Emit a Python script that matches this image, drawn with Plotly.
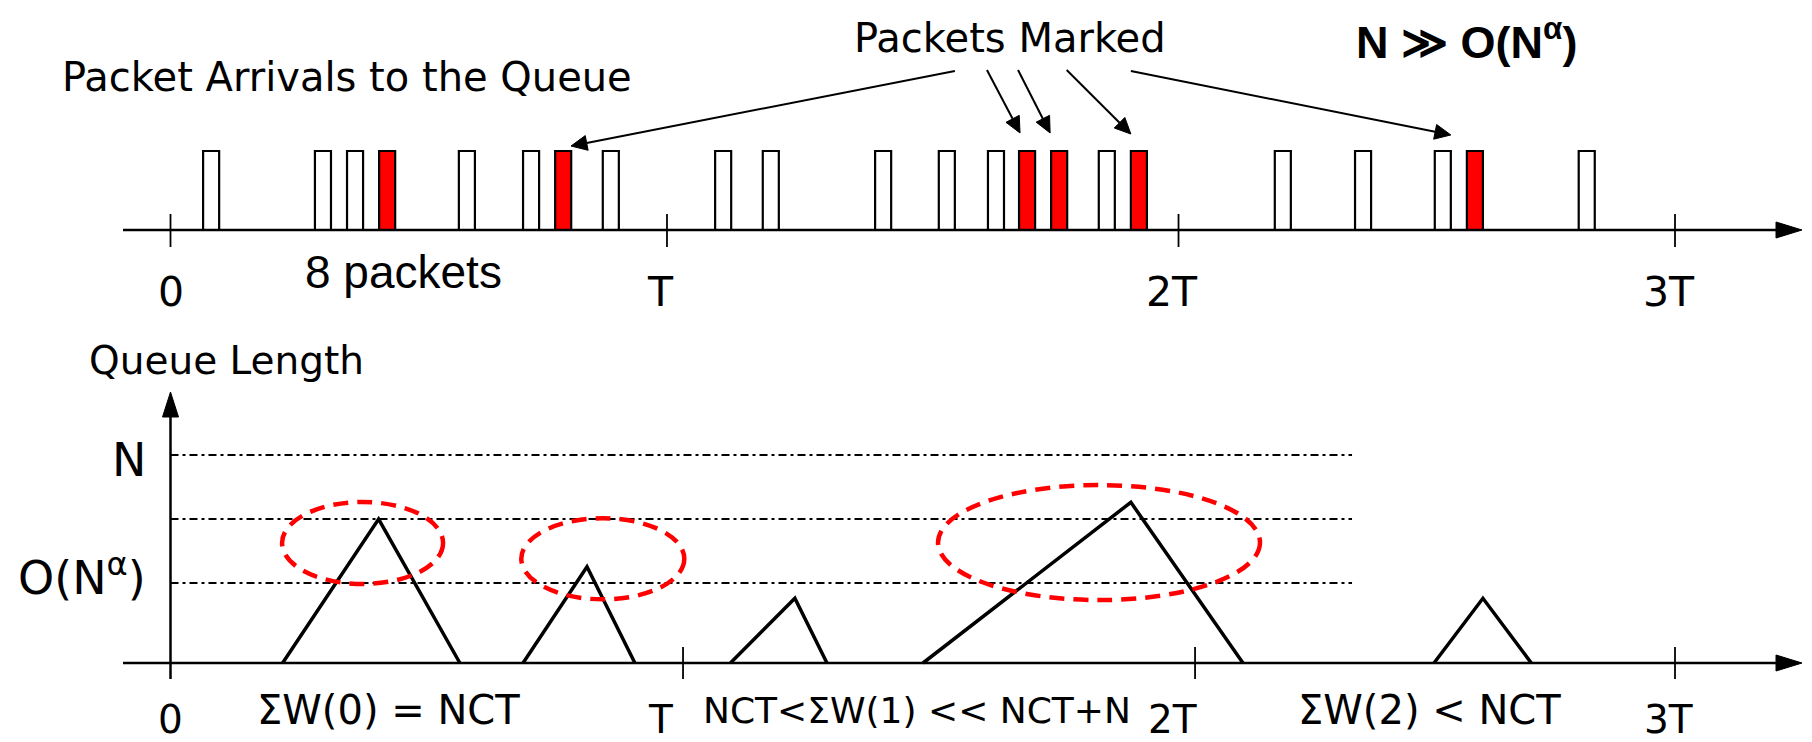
import math
import plotly.graph_objects as go

W, H = 1812, 742
OFF = 8                      # page body margin offset of the figure div
FW, FH = W - OFF, H - OFF    # figure size
# axis calibration (pixel of t=0 and pixels per T; baselines and pixels per unit)
X0_PX, X_SCALE = 170.5, 501.5
TOP_Y0_PX, TOP_SCALE = 230.0, 79.0
BOT_Y0_PX, BOT_SCALE = 663.0, 208.0

# ---------------- data ----------------
tick_labels = ["0", "T", "2T", "3T"]
top_tick_pos = [0.0, 0.99, 2.01, 3.0]
bottom_tick_pos = [0.0, 1.022, 2.043, 3.0]
tick_label_pos = [0.0, 0.978, 1.997, 2.988]

packet_times = [0.081, 0.304, 0.368, 0.432, 0.591, 0.719, 0.783, 0.878,
                1.102, 1.197, 1.421, 1.548, 1.646, 1.708, 1.772, 1.867, 1.931,
                2.218, 2.378, 2.537, 2.601, 2.824]
packet_marked = [0, 0, 0, 1, 0, 0, 1, 0,
                 0, 0, 0, 0, 0, 1, 1, 0, 1,
                 0, 0, 0, 1, 0]
packet_height = 1.0
packet_width = 0.032

queue_start = [0.2235, 0.703, 1.1165, 1.5005, 2.5195]
queue_peak_t = [0.415, 0.8305, 1.245, 1.915, 2.617]
queue_end = [0.577, 0.926, 1.309, 2.1385, 2.7135]
queue_peak = [0.692, 0.463, 0.311, 0.7726, 0.311]

level_values = [1.0, 0.692, 0.385]
level_labels = ["N", "", "O(N<sup>α</sup>)"]
level_end = 2.356

ellipse_t = [0.383, 0.862, 1.8515]
ellipse_q = [0.577, 0.501, 0.579]
ellipse_rt = [0.1605, 0.1625, 0.321]
ellipse_rq = [0.197, 0.195, 0.2765]

arrow_tail_t = [1.564, 1.628, 1.690, 1.787, 1.915]
arrow_tail_v = [2.013, 2.025, 2.025, 2.025, 2.013]
arrow_tip_t = [0.7986, 1.694, 1.754, 1.915, 2.553]
arrow_tip_v = [1.063, 1.228, 1.228, 1.215, 1.203]

window_texts = ["ΣW(0) = NCT", "NCT<ΣW(1) << NCT+N", "ΣW(2) < NCT"]
window_text_t = [0.4347, 1.4885, 2.5095]
window_text_size = [40, 36, 40]

# ---------------- helpers ----------------
def tx(px):
    return (px - X0_PX) / X_SCALE

def tv(py):
    return (TOP_Y0_PX - py) / TOP_SCALE

def bq(py):
    return (BOT_Y0_PX - py) / BOT_SCALE

def t2px(t):
    return X0_PX + t * X_SCALE

def v2py(v):
    return TOP_Y0_PX - v * TOP_SCALE

def paper(px, py):
    return (px - OFF) / FW, 1 - (py - OFF) / FH

COMIC = "DejaVu Sans"
ARIAL = "Liberation Sans"

fig = go.Figure()

# packets (bars)
fig.add_trace(go.Bar(
    x=packet_times, y=[packet_height] * len(packet_times), width=packet_width,
    marker=dict(color=["#ff0000" if m else "white" for m in packet_marked],
                line=dict(color="black", width=2.2)),
    yaxis="y", hoverinfo="skip"))

# queue triangles
qx, qy = [], []
for s, pt, e, pq in zip(queue_start, queue_peak_t, queue_end, queue_peak):
    qx += [s, pt, e, None]
    qy += [0, pq, 0, None]
fig.add_trace(go.Scatter(x=qx, y=qy, mode="lines", yaxis="y2",
                         line=dict(color="black", width=3.5), hoverinfo="skip"))

shapes = []
# level dash-dot lines
for lv in level_values:
    shapes.append(dict(type="line", xref="x", yref="y2", x0=0, x1=level_end, y0=lv, y1=lv,
                       line=dict(color="black", width=2, dash="8px,4px,3px,4px"), layer="below"))

# ellipses
for t, q, rt, rq in zip(ellipse_t, ellipse_q, ellipse_rt, ellipse_rq):
    shapes.append(dict(type="circle", xref="x", yref="y2", x0=t - rt, x1=t + rt, y0=q - rq, y1=q + rq,
                       line=dict(color="#ff0000", width=4.5, dash="15px,9px")))

# axes lines
x_start, x_back, x_tip = tx(123), tx(1776), tx(1802)
shapes.append(dict(type="line", xref="x", yref="y", x0=x_start, x1=x_back, y0=0, y1=0,
                   line=dict(color="black", width=2.5)))
hh = 8 / TOP_SCALE
shapes.append(dict(type="path", xref="x", yref="y",
                   path=f"M {x_back},{hh} L {x_tip},0 L {x_back},{-hh} Z",
                   fillcolor="black", line=dict(color="black", width=1)))
shapes.append(dict(type="line", xref="x", yref="y2", x0=x_start, x1=x_back, y0=0, y1=0,
                   line=dict(color="black", width=2.5)))
hb = 8 / BOT_SCALE
shapes.append(dict(type="path", xref="x", yref="y2",
                   path=f"M {x_back},{hb} L {x_tip},0 L {x_back},{-hb} Z",
                   fillcolor="black", line=dict(color="black", width=1)))
# vertical queue axis
y_bot, y_back, y_tip = bq(679), bq(417), bq(392)
shapes.append(dict(type="line", xref="x", yref="y2", x0=0, x1=0, y0=y_bot, y1=y_back,
                   line=dict(color="black", width=2.5)))
hw = 8 / X_SCALE
shapes.append(dict(type="path", xref="x", yref="y2",
                   path=f"M {-hw},{y_back} L 0,{y_tip} L {hw},{y_back} Z",
                   fillcolor="black", line=dict(color="black", width=1)))
# ticks
for t in top_tick_pos:
    shapes.append(dict(type="line", xref="x", yref="y", x0=t, x1=t, y0=tv(247), y1=tv(214),
                       line=dict(color="black", width=1.8)))
for t in bottom_tick_pos[1:]:
    shapes.append(dict(type="line", xref="x", yref="y2", x0=t, x1=t, y0=bq(679), y1=bq(647),
                       line=dict(color="black", width=1.8)))

# "packets marked" arrows (line + filled head)
HEAD_LEN, HEAD_HALF = 16.0, 7.5
for a, b, c, d in zip(arrow_tail_t, arrow_tail_v, arrow_tip_t, arrow_tip_v):
    x1, y1 = t2px(a), v2py(b)
    x2, y2 = t2px(c), v2py(d)
    L = math.hypot(x2 - x1, y2 - y1)
    ux, uy = (x2 - x1) / L, (y2 - y1) / L
    bx, by = x2 - ux * HEAD_LEN, y2 - uy * HEAD_LEN
    px_, py_ = -uy, ux
    shapes.append(dict(type="line", xref="x", yref="y", x0=a, y0=b, x1=tx(bx), y1=tv(by),
                       line=dict(color="black", width=2)))
    p1 = (tx(bx + px_ * HEAD_HALF), tv(by + py_ * HEAD_HALF))
    p2 = (tx(bx - px_ * HEAD_HALF), tv(by - py_ * HEAD_HALF))
    shapes.append(dict(type="path", xref="x", yref="y",
                       path=f"M {p1[0]},{p1[1]} L {c},{d} L {p2[0]},{p2[1]} Z",
                       fillcolor="black", line=dict(color="black", width=1)))

annotations = []
# tick labels
for lab, t in zip(tick_labels, tick_label_pos):
    annotations.append(dict(text=lab, x=t, y=tv(292), xref="x", yref="y", showarrow=False,
                            xanchor="center", yanchor="middle",
                            font=dict(family=COMIC, size=41, color="black")))
    annotations.append(dict(text=lab, x=t, y=bq(719), xref="x", yref="y2", showarrow=False,
                            xanchor="center", yanchor="middle",
                            font=dict(family=COMIC, size=39, color="black")))

# level labels
level_shift = [-5, 0, 8]
for lv, lab, sh in zip(level_values, level_labels, level_shift):
    if lab:
        annotations.append(dict(text=lab, x=tx(148), y=lv, xref="x", yref="y2", showarrow=False,
                                xanchor="right", yanchor="middle", yshift=sh,
                                font=dict(family=COMIC, size=46, color="black")))

# window labels
for txt, t, sz in zip(window_texts, window_text_t, window_text_size):
    annotations.append(dict(text=txt, x=t, y=bq(710), xref="x", yref="y2", showarrow=False,
                            xanchor="center", yanchor="middle",
                            font=dict(family=COMIC, size=sz, color="black")))

# free texts
def free_text(txt, px, py, family, size, bold=False, yanchor="middle"):
    x, y = paper(px, py)
    annotations.append(dict(text=(f"<b>{txt}</b>" if bold else txt), x=x, y=y, xref="paper", yref="paper",
                            showarrow=False, xanchor="center", yanchor=yanchor,
                            font=dict(family=family, size=size, color="black")))

free_text("Packet Arrivals to the Queue", 346.5, 77, COMIC, 40)
free_text("Packets Marked", 1010.5, 38, COMIC, 40)
free_text("N ≫ O(N<sup>α</sup>)", 1466, 8, ARIAL, 45, bold=True, yanchor="top")
free_text("8 packets", 403, 272, ARIAL, 46)
free_text("Queue Length", 226.5, 360, COMIC, 39)

fig.update_layout(
    width=FW, height=FH, autosize=False,
    margin=dict(l=0, r=0, t=0, b=0, pad=0),
    paper_bgcolor="white", plot_bgcolor="white",
    showlegend=False,
    xaxis=dict(range=[tx(OFF), tx(OFF + FW)], domain=[0, 1], visible=False, fixedrange=True),
    yaxis=dict(range=[tv(OFF + FH), tv(OFF)], domain=[0, 1], visible=False, fixedrange=True),
    yaxis2=dict(range=[bq(OFF + FH), bq(OFF)], domain=[0, 1], overlaying="y", visible=False, fixedrange=True),
    shapes=shapes, annotations=annotations,
)

fig.write_html("out.html")
